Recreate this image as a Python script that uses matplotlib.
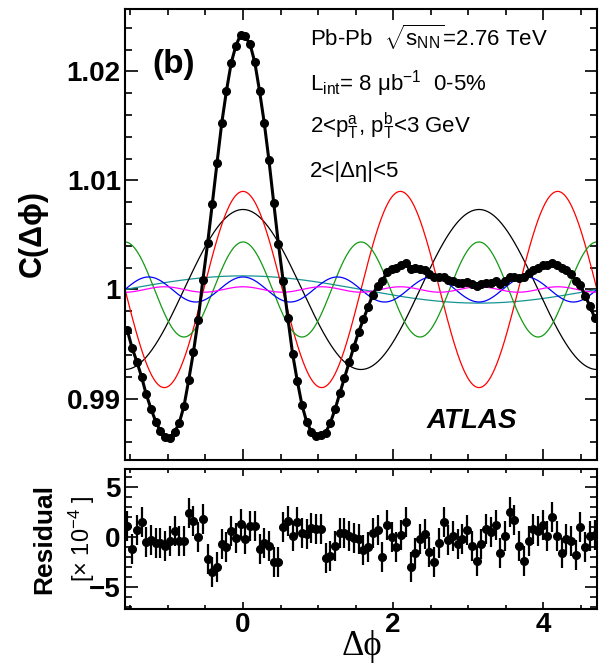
import numpy as np
import matplotlib
matplotlib.use('Agg')
import matplotlib.pyplot as plt
from matplotlib.ticker import MultipleLocator

plt.rcParams['font.family'] = ['Liberation Sans', 'DejaVu Sans']
plt.rcParams['mathtext.fontset'] = 'custom'
plt.rcParams['mathtext.rm'] = 'Liberation Sans'
plt.rcParams['mathtext.it'] = 'Liberation Sans:italic'
plt.rcParams['mathtext.bf'] = 'Liberation Sans:bold'

## data: 100 bins in dphi from -pi/2 to 3pi/2
n_bins = 100
corr = [0.99624, 0.99464, 0.99339, 0.99201, 0.99037, 0.98907, 0.98789, 0.98701, 0.98645, 0.98641,
        0.98691, 0.98777, 0.98931, 0.99170, 0.99427, 0.99723, 1.00090, 1.00422, 1.00788, 1.01163,
        1.01528, 1.01824, 1.02078, 1.02238, 1.02337, 1.02322, 1.02250, 1.02083, 1.01822, 1.01529,
        1.01184, 1.00798, 1.00419, 1.00082, 0.99739, 0.99412, 0.99161, 0.98939, 0.98784, 0.98694,
        0.98653, 0.98662, 0.98686, 0.98776, 0.98901, 0.99046, 0.99190, 0.99333, 0.99475, 0.99611,
        0.99725, 0.99840, 0.99952, 1.00036, 1.00076, 1.00159, 1.00184, 1.00199, 1.00224, 1.00240,
        1.00190, 1.00193, 1.00191, 1.00178, 1.00141, 1.00111, 1.00112, 1.00117, 1.00085, 1.00079,
        1.00062, 1.00061, 1.00066, 1.00047, 1.00031, 1.00048, 1.00064, 1.00064, 1.00075, 1.00053,
        1.00079, 1.00113, 1.00119, 1.00109, 1.00112, 1.00152, 1.00183, 1.00199, 1.00221, 1.00221,
        1.00245, 1.00223, 1.00193, 1.00182, 1.00143, 1.00078, 1.00039, 0.99938, 0.99851, 0.99740]

# residual in units of 1e-4
resid = [1.1, -1.2, 0.7, 1.5, -0.5, -0.3, -0.6, -0.6, -0.9, -0.4,
         0.6, -0.4, -0.4, 2.4, 1.6, 0.0, 1.8, -2.2, -3.5, -3.0,
         -0.7, -1.0, 0.6, -0.1, 1.3, -0.2, 1.1, 1.1, -1.2, -0.6,
         -0.9, -2.5, -2.5, 1.0, 1.6, 0.1, 1.5, 0.4, 0.3, 0.9,
         0.8, 0.8, -2.1, -1.9, -0.9, 0.4, 0.4, 0.1, -0.1, -0.2,
         -1.3, -1.0, 0.4, 0.7, -2.0, 1.2, 0.0, -1.0, 0.2, 1.5,
         -3.0, -1.6, -0.2, 0.3, -1.5, -2.5, -0.6, 1.5, -0.3, 0.1,
         -0.7, -0.2, 0.7, -0.9, -2.4, -0.7, 0.8, 0.5, 1.2, -1.6,
         0.1, 2.5, 1.7, -0.9, -2.4, -0.4, 0.8, 0.6, 1.2, 0.1,
         2.0, 0.1, -1.6, -0.2, -0.4, -1.8, 1.0, -1.0, 0.1, 0.2]
resid_err = [1.5, 1.5, 1.5, 1.5, 1.5, 1.5, 1.5, 1.5, 1.5, 1.5,
             1.5, 1.5, 1.5, 1.5, 1.5, 1.5, 1.5, 1.5, 1.5, 1.5,
             1.5, 1.5, 1.5, 1.5, 1.5, 1.5, 1.5, 1.5, 1.5, 1.5,
             1.5, 1.5, 1.5, 1.5, 1.5, 1.5, 1.5, 1.5, 1.5, 1.5,
             1.5, 1.5, 1.5, 1.5, 1.5, 1.5, 1.5, 1.5, 1.5, 1.5,
             1.5, 1.5, 1.5, 1.5, 1.5, 1.5, 1.5, 1.5, 1.5, 1.5,
             1.5, 1.5, 1.5, 1.5, 1.5, 1.5, 1.5, 1.5, 1.5, 1.5,
             1.5, 1.5, 1.5, 1.5, 1.5, 1.5, 1.5, 1.5, 1.5, 1.5,
             1.5, 1.5, 1.5, 1.5, 1.5, 1.5, 1.5, 1.5, 1.5, 1.5,
             1.5, 1.5, 1.5, 1.5, 1.5, 1.5, 1.5, 1.5, 1.5, 1.5]

# Fourier components 1 + 2 v_n^2 cos(n dphi): order and amplitude
harm_n = [1, 2, 3, 4, 5, 6]
harm_amp = [0.00125, 0.00734, 0.0090, 0.00436, 0.00115, 0.00025]
harm_col = ['#169494', 'black', 'red', '#149914', 'blue', 'magenta']

edges = np.linspace(-np.pi / 2, 1.5 * np.pi, n_bins + 1)
dphi = 0.5 * (edges[1:] + edges[:-1])
xx = np.linspace(-np.pi / 2, 1.5 * np.pi, 600)

fig = plt.figure(figsize=(6.08, 6.68), dpi=100)
ax = fig.add_axes([0.2056, 0.3114, 0.7763, 0.6751])
ax2 = fig.add_axes([0.2056, 0.0883, 0.7763, 0.2096])

for n, a, c in zip(harm_n, harm_amp, harm_col):
    ax.plot(xx, 1 + a * np.cos(n * xx), color=c, lw=0.9)
ax.plot(dphi, corr, '-o', color='black', lw=2.2, ms=5.5)

ax.set_xlim(-np.pi / 2, 1.5 * np.pi)
ax.set_ylim(0.98436, 1.02573)
ax.set_yticks([0.99, 1.0, 1.01, 1.02], ['0.99', '1', '1.01', '1.02'])
ax.yaxis.set_minor_locator(MultipleLocator(0.002))
ax.xaxis.set_major_locator(MultipleLocator(2))
ax.xaxis.set_minor_locator(MultipleLocator(0.5))
ax.tick_params(which='both', direction='in', top=True, right=True, labelbottom=False, width=1.2)
ax.tick_params(axis='y', which='major', length=9, labelsize=20, pad=3)
ax.tick_params(axis='y', which='minor', length=5)
ax.tick_params(axis='x', which='major', length=8)
ax.tick_params(axis='x', which='minor', length=4.5)

# text
ax.text(0.057, 0.876, '(b)', transform=ax.transAxes, fontsize=24, fontweight='bold', va='center')
ax.text(0.392, 0.918, r'Pb-Pb  $\sqrt{\mathrm{s_{NN}}}$=2.76 TeV', transform=ax.transAxes, fontsize=16)
ax.text(0.392, 0.820, r'L$_{\mathrm{int}}$= 8 μb$^{\mathrm{-1}}$  0-5%', transform=ax.transAxes, fontsize=16)
ax.text(0.392, 0.725, r'2<p$_{\mathrm{T}}^{\mathrm{a}}$, p$_{\mathrm{T}}^{\mathrm{b}}$<3 GeV', transform=ax.transAxes, fontsize=16)
ax.text(0.392, 0.628, '2<|Δη|<5', transform=ax.transAxes, fontsize=16)
ax.text(0.638, 0.0865, 'ATLAS', transform=ax.transAxes, fontsize=20, fontweight='bold',
        fontstyle='italic', va='center')

# residual panel
ax2.errorbar(dphi, resid, yerr=resid_err, fmt='o', color='black', ms=5.5, elinewidth=1.6, capsize=0)
ax2.set_xlim(-np.pi / 2, 1.5 * np.pi)
ax2.set_ylim(-7.2, 6.8)
ax2.set_yticks([-5, 0, 5])
ax2.yaxis.set_minor_locator(MultipleLocator(1))
ax2.xaxis.set_major_locator(MultipleLocator(2))
ax2.xaxis.set_minor_locator(MultipleLocator(0.5))
ax2.tick_params(which='both', direction='in', top=True, right=True, width=1.2, labelsize=20)
ax2.tick_params(axis='y', which='major', length=9, pad=3)
ax2.tick_params(axis='y', which='minor', length=5)
ax2.tick_params(axis='x', which='major', length=5, pad=2)
ax2.tick_params(axis='x', which='minor', length=3)

for a in (ax, ax2):
    for lab in a.get_xticklabels() + a.get_yticklabels():
        lab.set_fontweight('bold')
    for s in a.spines.values():
        s.set_linewidth(1.5)

fig.text(0.595, 0.008, 'Δϕ', family=['Liberation Serif', 'DejaVu Serif'], fontsize=25,
         ha='center', va='bottom')
fig.text(0.054, 0.650, 'C(Δϕ)', rotation=90, fontsize=22, fontweight='bold', ha='center', va='center')
fig.text(0.072, 0.193, 'Residual', rotation=90, fontsize=19, fontweight='bold', ha='center', va='center')
fig.text(0.135, 0.193, r'[× 10$^{\mathrm{-4}}$ ]', rotation=90, fontsize=17, ha='center', va='center')

fig.savefig('out.png', dpi=100)
